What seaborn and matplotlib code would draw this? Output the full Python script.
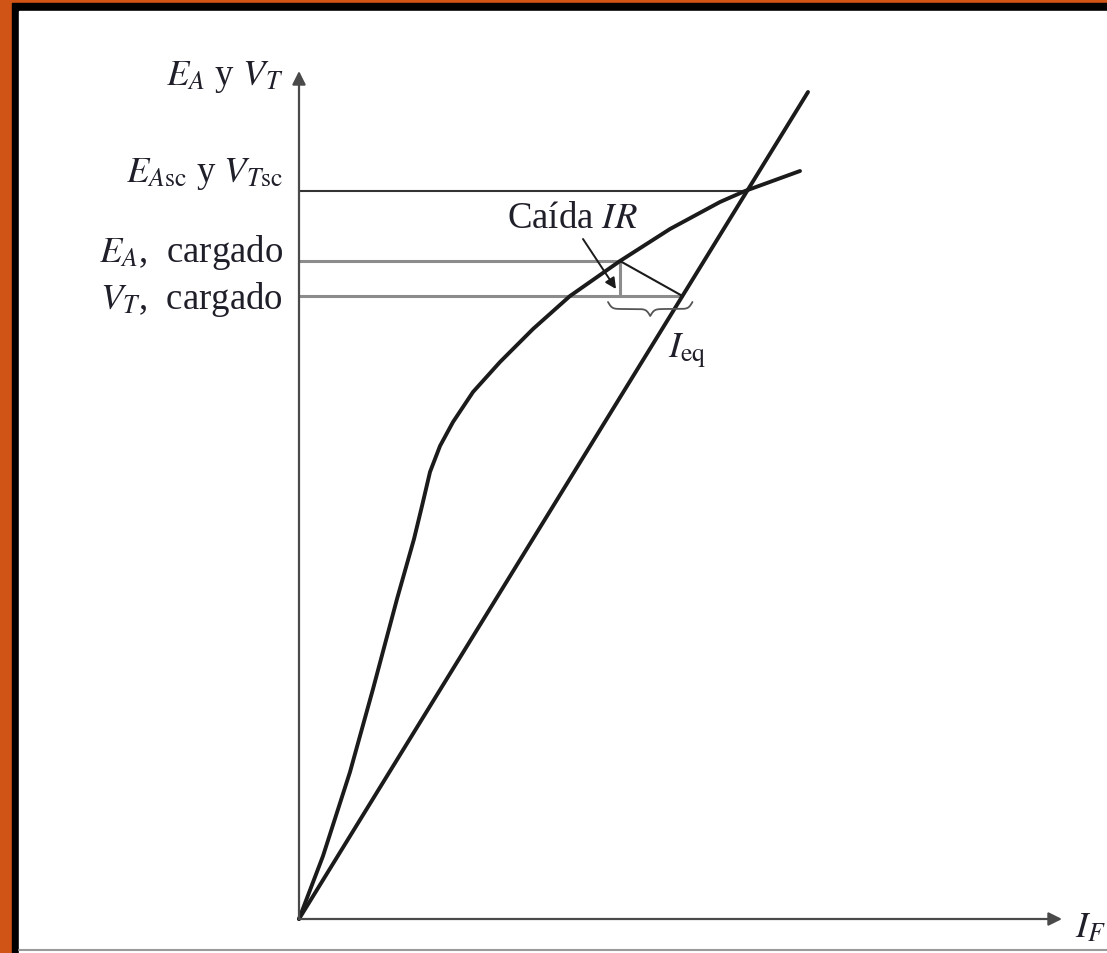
import numpy as np
import pandas as pd
import matplotlib
matplotlib.use("Agg")
import matplotlib.pyplot as plt
from matplotlib.patches import Rectangle
import seaborn as sns

# Curva de magnetizacion (E_A vs I_F) y recta del campo (V_T = R_F I_F)
curva_if = [0, 24, 51, 74, 98, 115, 123, 131, 141, 154, 174, 201, 234, 271, 321, 371, 421, 446, 501]
curva_ea = [0, 63, 147, 230, 320, 380, 413, 447, 473, 497, 527, 557, 590, 623, 658, 690, 717, 728, 748]
recta_if = [0, 509]
recta_vt = [0, 827]

# Niveles de tension marcados en el eje
nivel_sc = 728      # E_Asc y V_Tsc
nivel_ea = 658      # E_A, cargado
nivel_vt = 623      # V_T, cargado

naranja = "#CF5416"
negro = "#1b1b1b"
gris = "#8c8c8c"
texto = "#1f1f2a"

sns.set_theme(style="white")
plt.rcParams["font.family"] = ["Liberation Serif", "DejaVu Serif"]
plt.rcParams["mathtext.fontset"] = "stix"

W, H = 1107, 954
fig = plt.figure(figsize=(W / 100, H / 100), dpi=100)
fig.patch.set_facecolor(naranja)
fig.add_artist(Rectangle((12 / W, 0), 1, (H - 4) / H, transform=fig.transFigure, color="black", zorder=0))
fig.add_artist(Rectangle((19 / W, 0), 1, (H - 12) / H, transform=fig.transFigure, color="white", zorder=0))
fig.add_artist(plt.Line2D([19 / W, 1], [3.5 / H, 3.5 / H], transform=fig.transFigure, color="#9a9a9a", lw=1.5))

ax = fig.add_axes([0, 0, 1, 1])
ax.set_facecolor("none")
ax.set_xlim(-299, W - 299)
ax.set_ylim(-(H - 920), 920)
ax.axis("off")

# ejes con flechas
ax.annotate("", xy=(0, 848), xytext=(0, 0),
            arrowprops=dict(arrowstyle="-|>", color="#4a4a4a", lw=1.6, mutation_scale=20, shrinkA=0, shrinkB=0))
ax.annotate("", xy=(763, 0), xytext=(0, 0),
            arrowprops=dict(arrowstyle="-|>", color="#4a4a4a", lw=1.6, mutation_scale=20, shrinkA=0, shrinkB=0))

# intersecciones
x_sc = nivel_sc * recta_if[1] / recta_vt[1]
x_ea = np.interp(nivel_ea, curva_ea, curva_if)
x_vt = nivel_vt * recta_if[1] / recta_vt[1]

ax.plot([0, x_sc], [nivel_sc, nivel_sc], color="#333333", lw=1.5)
ax.plot([0, x_ea], [nivel_ea, nivel_ea], color=gris, lw=2.2)
ax.plot([0, x_vt], [nivel_vt, nivel_vt], color=gris, lw=2.2)
ax.plot([x_ea, x_ea], [nivel_ea, nivel_vt], color=gris, lw=2.2)
ax.plot([x_ea, x_vt], [nivel_ea, nivel_vt], color=negro, lw=1.5)

df_curva = pd.DataFrame({"I_F": curva_if, "E_A": curva_ea})
df_recta = pd.DataFrame({"I_F": recta_if, "V_T": recta_vt})
sns.lineplot(data=df_curva, x="I_F", y="E_A", sort=False, estimator=None, color=negro, lw=2.8,
             solid_joinstyle="round", ax=ax)
sns.lineplot(data=df_recta, x="I_F", y="V_T", sort=False, estimator=None, color=negro, lw=2.8, ax=ax)

# caida IR: flecha
ax.annotate("", xy=(x_ea - 4, nivel_vt + 7), xytext=(x_ea - 37, nivel_ea + 22),
            arrowprops=dict(arrowstyle="-|>", color=negro, lw=1.4, mutation_scale=16, shrinkA=0, shrinkB=0))

# llave bajo I_eq
x0, x1 = x_ea - 12, x_vt + 10
xb = np.linspace(x0, x1, 401)
xm = (x0 + x1) / 2
beta = 0.5
half = np.where(xb <= xm,
                1 / (1 + np.exp(-beta * (xb - x0))) + 1 / (1 + np.exp(-beta * (xb - xm))),
                1 / (1 + np.exp(-beta * (x1 - xb))) + 1 / (1 + np.exp(-beta * (xm - xb))))
yb = nivel_vt - 6 - (half - 0.5) * 14
ax.plot(xb, yb, color="#555555", lw=1.3)

fs = 26.5
ax.text(-16, 835, r"$E_A$ y $V_T$", ha="right", va="baseline", fontsize=fs, color=texto)
ax.text(-16, 738, r"$E_{A\mathrm{sc}}$ y $V_{T\mathrm{sc}}$", ha="right", va="baseline", fontsize=fs, color=texto)
ax.text(-16, 658, r"$E_A$,  cargado", ha="right", va="baseline", fontsize=fs, color=texto)
ax.text(-16, 611, r"$V_T$,  cargado", ha="right", va="baseline", fontsize=fs, color=texto)
ax.text(273, 692, r"Caída $IR$", ha="center", va="baseline", fontsize=fs, color=texto)
ax.text(369, 562, r"$I_{\mathrm{eq}}$", ha="left", va="baseline", fontsize=fs, color=texto)
ax.text(776, -17, r"$I_F$", ha="left", va="baseline", fontsize=fs, color=texto)

fig.savefig("out.png", dpi=100, facecolor=fig.get_facecolor())
